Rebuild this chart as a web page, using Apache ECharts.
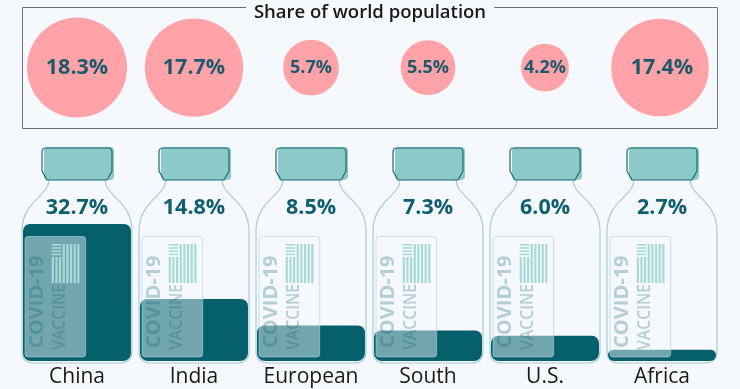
<!DOCTYPE html>
<html>
<head>
<meta charset="utf-8">
<style>
  html, body {margin: 0; padding: 0; background: #f5f8fc;}
  #chart {width: 740px; height: 389px;}
</style>
<script src="https://cdn.jsdelivr.net/npm/echarts@6/dist/echarts.min.js"></script>
</head>
<body>
<div id="chart"></div>
<script>
const categories = ['China', 'India', 'European', 'South', 'U.S.', 'Africa'];
const vaccineShare = [32.7, 14.8, 8.5, 7.3, 6.0, 2.7];
const populationShare = [18.3, 17.7, 5.7, 5.5, 4.2, 17.4];

const FONT = '"Open Sans", sans-serif';
const DARK = '#05606c';
const pct = v => v.toFixed(1) + '%';

const myChart = echarts.init(document.getElementById('chart'));

// bottle behind the bar, anchored on the category centre and the axis baseline
const renderBottle = (params, api) => {
  const p = api.coord([api.value(0), 0]);
  const cx = p[0];
  const y0 = p[1];
  const shoulder = `M${cx - 28} ${y0 - 181} C${cx - 28} ${y0 - 165} ${cx - 55} ${y0 - 160} ${cx - 55} ${y0 - 130}`
    + `L${cx - 55} ${y0 - 10} Q${cx - 55} ${y0 + 2} ${cx - 43} ${y0 + 2} L${cx + 43} ${y0 + 2}`
    + `Q${cx + 55} ${y0 + 2} ${cx + 55} ${y0 - 10} L${cx + 55} ${y0 - 130}`
    + `C${cx + 55} ${y0 - 160} ${cx + 28} ${y0 - 165} ${cx + 28} ${y0 - 181}`;
  const cap = `M${cx - 31} ${y0 - 213} L${cx + 31} ${y0 - 213} Q${cx + 35} ${y0 - 213} ${cx + 35} ${y0 - 209}`
    + `L${cx + 35} ${y0 - 190} L${cx + 30} ${y0 - 181} L${cx - 30} ${y0 - 181} L${cx - 35} ${y0 - 190}`
    + `L${cx - 35} ${y0 - 209} Q${cx - 35} ${y0 - 213} ${cx - 31} ${y0 - 213} Z`;
  return {
    type: 'group',
    children: [
      {type: 'path', shape: {pathData: shoulder}, style: {fill: 'none', stroke: '#a9cdd3', lineWidth: 1.2}},
      {type: 'rect', shape: {x: cx - 33, y: y0 - 214, width: 70, height: 33, r: 4}, style: {fill: '#8ccaca'}},
      {type: 'path', shape: {pathData: cap}, style: {fill: 'none', stroke: '#1f6b78', lineWidth: 1.2}},
      {
        type: 'text',
        style: {
          x: cx, y: y0 - 153, text: pct(api.value(1)),
          font: `bold 21.5px ${FONT}`, fill: '#0f5f6e', textAlign: 'center', textVerticalAlign: 'middle'
        }
      }
    ]
  };
};

// translucent vial sticker, drawn over the bar
const renderSticker = (params, api) => {
  const p = api.coord([api.value(0), 0]);
  const cx = p[0];
  const y0 = p[1];
  const children = [
    {
      type: 'rect',
      shape: {x: cx - 52, y: y0 - 124.5, width: 60.7, height: 120.5, r: 3},
      style: {fill: 'rgba(245,248,252,0.46)', stroke: 'rgba(170,212,216,0.6)', lineWidth: 1}
    }
  ];
  for (let i = 0; i < 8; i++) {
    const x = cx - 25.3 + i * 3.65;
    const top = i < 3 ? y0 - 104 : y0 - 117;
    children.push({
      type: 'rect',
      shape: {x: x, y: top, width: 2.2, height: y0 - 78 - top},
      style: {fill: '#a6dad8'}
    });
  }
  for (let i = 0; i < 4; i++) {
    children.push({
      type: 'rect',
      shape: {x: cx - 25.3, y: y0 - 117 + i * 3.2, width: 9.5, height: 1.6},
      style: {fill: '#a6dad8'}
    });
  }
  children.push({
    type: 'text',
    x: cx - 39.3, y: y0 - 59.3, rotation: Math.PI / 2,
    style: {
      x: 0, y: 0, text: 'COVID-19', font: `bold 20px ${FONT}`,
      fill: 'rgba(4,97,109,0.27)', textAlign: 'center', textVerticalAlign: 'middle'
    }
  });
  children.push({
    type: 'text',
    x: cx - 17, y: y0 - 44, rotation: Math.PI / 2, scaleX: 0.9,
    style: {
      x: 0, y: 0, text: 'VACCINE', font: `600 17.5px ${FONT}`,
      fill: 'rgba(4,97,109,0.27)', textAlign: 'center', textVerticalAlign: 'middle'
    }
  });
  return {type: 'group', children: children};
};

const bottleData = categories.map((c, i) => [i, vaccineShare[i]]);

myChart.setOption({
  backgroundColor: '#f5f8fc',
  animation: false,
  title: {
    text: 'Share of world population',
    left: 365,
    top: -2,
    textAlign: 'center',
    textStyle: {fontFamily: FONT, fontSize: 18.5, fontWeight: 600, color: '#1a1a1a'}
  },
  graphic: [
    {
      type: 'polyline',
      silent: true,
      shape: {points: [[246, 7.5], [22.5, 7.5], [22.5, 128.5], [717.5, 128.5], [717.5, 7.5], [494, 7.5]]},
      style: {fill: 'none', stroke: '#6e7478', lineWidth: 1}
    }
  ],
  grid: [
    {left: 18.5, width: 702, top: 193.4, bottom: 28},
    {left: 18.5, width: 702, top: 7.6, height: 120}
  ],
  xAxis: [
    {
      type: 'category',
      data: categories,
      axisLine: {show: false},
      axisTick: {show: false},
      axisLabel: {
        fontFamily: FONT,
        fontSize: 21,
        color: '#1a1a1a',
        margin: 6,
        interval: 0
      }
    },
    {type: 'category', gridIndex: 1, data: categories, show: false}
  ],
  yAxis: [
    {type: 'value', min: 0, max: 40, show: false},
    {type: 'category', gridIndex: 1, data: ['share'], show: false}
  ],
  series: [
    {
      type: 'custom',
      z: 1,
      silent: true,
      clip: false,
      renderItem: renderBottle,
      data: bottleData
    },
    {
      type: 'bar',
      z: 2,
      data: vaccineShare,
      barWidth: 108,
      itemStyle: {color: DARK, borderRadius: [7, 7, 8, 8]}
    },
    {
      type: 'custom',
      z: 3,
      silent: true,
      clip: false,
      renderItem: renderSticker,
      data: bottleData
    },
    {
      type: 'scatter',
      xAxisIndex: 1,
      yAxisIndex: 1,
      symbolSize: val => 23.38 * Math.sqrt(val[2]),
      itemStyle: {color: '#ffa3a8', opacity: 1},
      label: {
        show: true,
        position: 'inside',
        formatter: p => pct(p.value[2]),
        fontFamily: FONT,
        fontWeight: 'bold',
        color: '#1d5a6b'
      },
      // the Africa circle sits a little left of its column, its text does not
      data: populationShare.map((v, i) => ({
        value: [i, 0, v],
        symbolOffset: i === 5 ? [-2, 0] : [0, 0],
        label: {fontSize: v > 10 ? 21.5 : 18, offset: i === 5 ? [2, 0] : [0, 0]}
      }))
    }
  ]
});
</script>
</body>
</html>
